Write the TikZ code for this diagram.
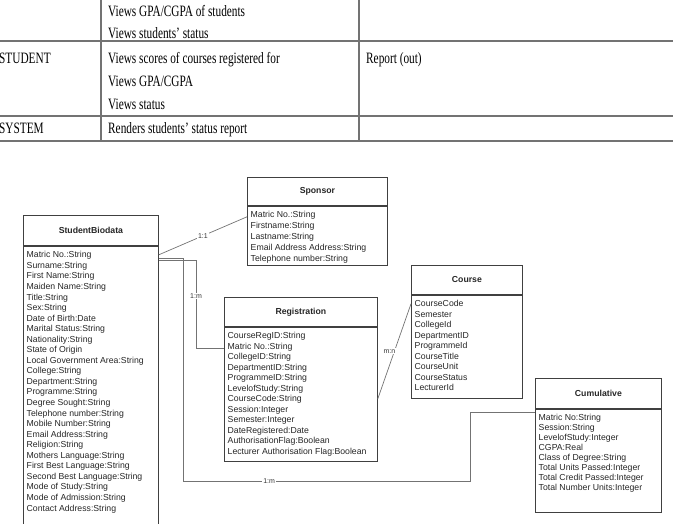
\documentclass[tikz,border=0pt]{standalone}
\usepackage{fontspec}
\setmainfont{Liberation Serif}
\setsansfont{Liberation Sans}
\newcommand\tallcell[1]{\scalebox{1}[1.4]{#1}}
\tikzset{
  rule/.style={draw=black!55, line width=1.1pt},
  cell/.style={anchor=base west, inner sep=0pt, font=\fontsize{11.3}{13}\selectfont},
  classhead/.style={draw=black!75, line width=0.8pt, anchor=north west, inner sep=0pt,
    font=\sffamily\bfseries\fontsize{8.7}{10}\selectfont, text=black!85},
  classbody/.style={draw=black!75, line width=0.8pt, anchor=north west, inner sep=0pt},
  attrs/.style={anchor=north west, inner sep=0pt, align=left,
    font=\sffamily\fontsize{8.7}{10.6}\selectfont, text=black!85},
  link/.style={draw=black!55, line width=0.7pt},
  mult/.style={fill=white, inner sep=1pt, font=\sffamily\fontsize{7}{8}\selectfont, text=black!80}
}
\begin{document}
\begin{tikzpicture}[x=1pt,y=-1pt]
\useasboundingbox (0,0) rectangle (673,524);

\draw[rule] (-2,41) -- (675,41);
\draw[rule] (-2,116) -- (675,116);
\draw[rule] (-2,141) -- (675,141);
\draw[rule] (101,-2) -- (101,141);
\draw[rule] (359,-2) -- (359,141);

\node[cell] (rowAa) at (108,17) {\tallcell{Views GPA/CGPA of students}};
\node[cell] (rowAb) at (108,39) {\tallcell{Views students’ status}};
\node[cell] (student) at (-1,64) {\tallcell{STUDENT}};
\node[cell] (rowBa) at (108,64) {\tallcell{Views scores of courses registered for}};
\node[cell] (rowBb) at (108,87) {\tallcell{Views GPA/CGPA}};
\node[cell] (rowBc) at (108,110) {\tallcell{Views status}};
\node[cell] (report) at (366,64) {\tallcell{Report (out)}};
\node[cell] (system) at (-1,134) {\tallcell{SYSTEM}};
\node[cell] (rowCa) at (108,134) {\tallcell{Renders students’ status report}};

\node[classhead, minimum width=135pt, minimum height=30pt] (bioH) at (23,215) {StudentBiodata};
\node[classbody, minimum width=135pt, minimum height=320pt] (bioB) at (bioH.south west) {};
\node[attrs, font=\sffamily\fontsize{8.7}{10.55}\selectfont] (bioA) at ([shift={(3.5,5.5)}]bioB.north west) {Matric No.:String\\Surname:String\\First Name:String\\Maiden Name:String\\Title:String\\Sex:String\\Date of Birth:Date\\Marital Status:String\\Nationality:String\\State of Origin\\Local Government Area:String\\College:String\\Department:String\\Programme:String\\Degree Sought:String\\Telephone number:String\\Mobile Number:String\\Email Address:String\\Religion:String\\Mothers Language:String\\First Best Language:String\\Second Best Language:String\\Mode of Study:String\\Mode of Admission:String\\Contact Address:String};

\node[classhead, minimum width=140pt, minimum height=28pt] (spoH) at (247,177) {Sponsor};
\node[classbody, minimum width=140pt, minimum height=59pt] (spoB) at (spoH.south west) {};
\node[attrs, font=\sffamily\fontsize{8.7}{10.8}\selectfont] (spoA) at ([shift={(3.5,5.5)}]spoB.north west) {Matric No.:String\\Firstname:String\\Lastname:String\\Email Address Address:String\\Telephone number:String};

\node[classhead, minimum width=153pt, minimum height=29pt] (regH) at (224,297) {Registration};
\node[classbody, minimum width=153pt, minimum height=134pt] (regB) at (regH.south west) {};
\node[attrs, font=\sffamily\fontsize{8.7}{10.5}\selectfont] (regA) at ([shift={(3.5,5.5)}]regB.north west) {CourseRegID:String\\Matric No.:String\\CollegeID:String\\DepartmentID:String\\ProgrammeID:String\\LevelofStudy:String\\CourseCode:String\\Session:Integer\\Semester:Integer\\DateRegistered:Date\\AuthorisationFlag:Boolean\\Lecturer Authorisation Flag:Boolean};

\node[classhead, minimum width=111pt, minimum height=29pt] (crsH) at (411,265) {Course};
\node[classbody, minimum width=111pt, minimum height=103pt] (crsB) at (crsH.south west) {};
\node[attrs, font=\sffamily\fontsize{8.7}{10.5}\selectfont] (crsA) at ([shift={(3.5,5.5)}]crsB.north west) {CourseCode\\Semester\\CollegeId\\DepartmentID\\ProgrammeId\\CourseTitle\\CourseUnit\\CourseStatus\\LecturerId};

\node[classhead, minimum width=126pt, minimum height=30pt] (cumH) at (535,378) {Cumulative};
\node[classbody, minimum width=126pt, minimum height=103pt] (cumB) at (cumH.south west) {};
\node[attrs, font=\sffamily\fontsize{8.7}{10}\selectfont] (cumA) at ([shift={(3.5,5.5)}]cumB.north west) {Matric No:String\\Session:String\\LevelofStudy:Integer\\CGPA:Real\\Class of Degree:String\\Total Units Passed:Integer\\Total Credit Passed:Integer\\Total Number Units:Integer};

\coordinate (lowBend) at (183,481);

\draw[link] ([yshift=-9pt]bioB.north east) -- ([yshift=-11pt]spoB.north west) node[mult, pos=0.5] {1:1};
\draw[link] ([yshift=-15pt]bioB.north east) -| ([xshift=-28pt,yshift=-22pt]regB.north west) node[mult, pos=0.7] {1:m} -- ([yshift=-22pt]regB.north west);
\draw[link] ([yshift=-13pt]bioB.north east) -| (lowBend) -| ([xshift=-65pt,yshift=-4pt]cumB.north west) node[mult, pos=0.15] {1:m} -- ([yshift=-4pt]cumB.north west);
\draw[link] ([yshift=-72pt]regB.north east) -- ([yshift=-9pt]crsB.north west) node[mult, pos=0.5, xshift=-5pt] {m:n};
\end{tikzpicture}
\end{document}
